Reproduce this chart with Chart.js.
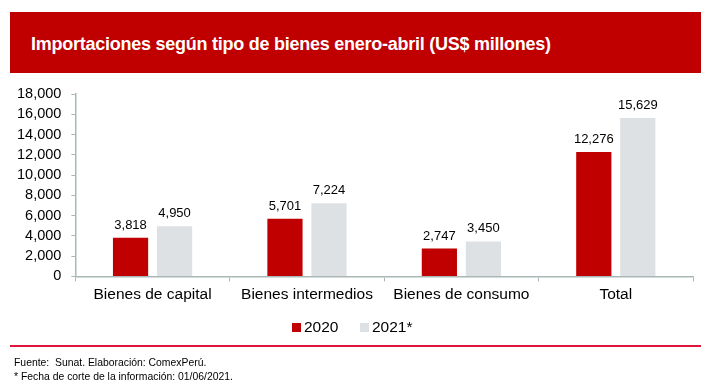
<!DOCTYPE html>
<html>
<head>
<meta charset="utf-8">
<script src="https://cdn.jsdelivr.net/npm/chart.js@4"></script>
<style>
  body { margin: 0; width: 710px; height: 391px; background: #fff; font-family: "Liberation Sans", Arial, sans-serif; position: relative; overflow: hidden; }
  #banner { position: absolute; left: 10px; top: 12px; width: 691px; height: 61px; background: #C00000; }
  #banner span { position: absolute; left: 21px; top: 22px; color: #fff; font-weight: bold; font-size: 18px; letter-spacing: -0.25px; }
  #rule { position: absolute; left: 10px; top: 345px; width: 691px; height: 2px; background: #E0163C; }
  #foot { position: absolute; left: 14px; top: 356px; font-size: 10.4px; line-height: 14px; color: #000; }
  #wrap { position: absolute; left: 0; top: 0; width: 710px; height: 391px; }
  #leyenda { position: absolute; top: 318px; left: 0; width: 710px; font-size: 15.5px; color: #000; }
  #leyenda .it { position: absolute; top: 0; white-space: nowrap; }
  #leyenda i { display: inline-block; width: 9px; height: 9px; margin-right: 3px; vertical-align: 0; }
</style>
</head>
<body>
<div id="banner"><span>Importaciones según tipo de bienes enero-abril (US$ millones)</span></div>
<div id="wrap"><canvas id="chart" width="710" height="391"></canvas></div>
<div id="leyenda"></div>
<div id="rule"></div>
<div id="foot">Fuente:&nbsp; Sunat. Elaboración: ComexPerú.<br>* Fecha de corte de la información: 01/06/2021.</div>
<script>
// datos del gráfico
const categorias = ['Bienes de capital', 'Bienes intermedios', 'Bienes de consumo', 'Total'];
const valores2020 = [3818, 5701, 2747, 12276];
const valores2021 = [4950, 7224, 3450, 15629];
const series = ['2020', '2021*'];
const colores = ['#C00000', '#DEE1E3'];

const fuente = '"Liberation Sans", Arial, sans-serif';

// etiquetas encima de cada barra
const etiquetas = {
    id: 'etiquetas',
    afterDatasetsDraw(chart) {
        const ctx = chart.ctx;
        ctx.save();
        ctx.font = '13px ' + fuente;
        ctx.fillStyle = '#000';
        ctx.textAlign = 'center';
        ctx.textBaseline = 'alphabetic';
        chart.data.datasets.forEach((ds, i) => {
            chart.getDatasetMeta(i).data.forEach((bar, j) => {
                ctx.fillText(ds.data[j].toLocaleString('en-US'), bar.x, bar.y - 9);
            });
        });
        ctx.restore();
    }
};

const ejeColor = '#A9B7B7';
const chart = new Chart(document.getElementById('chart'), {
    type: 'bar',
    data: {
        labels: categorias,
        datasets: series.map((s, i) => ({
            label: s,
            data: i === 0 ? valores2020 : valores2021,
            backgroundColor: colores[i],
            barPercentage: 0.8,
            categoryPercentage: 0.57
        }))
    },
    options: {
        responsive: false,
        animation: false,
        layout: { padding: { top: 94, left: 7, right: 17, bottom: 83 } },
        plugins: {
            tooltip: { enabled: false },
            legend: { display: false }
        },
        scales: {
            x: {
                grid: { drawOnChartArea: false, drawTicks: true, tickLength: 5, color: ejeColor },
                border: { color: ejeColor, width: 1.5 },
                ticks: { color: '#000', padding: 4, autoSkip: false, maxRotation: 0, font: { family: fuente, size: 15.5 } }
            },
            y: {
                min: 0, max: 18000,
                grid: { drawOnChartArea: false, drawTicks: true, tickLength: 4, color: ejeColor },
                border: { color: ejeColor, width: 1.5 },
                ticks: {
                    stepSize: 2000, autoSkip: false, color: '#000', padding: 10,
                    font: { family: fuente, size: 14.5 },
                    callback: v => v.toLocaleString('en-US')
                }
            }
        }
    },
    plugins: [etiquetas]
});

// leyenda en HTML, posiciones como en la imagen original
const leyenda = document.getElementById('leyenda');
const posX = [292, 360];
chart.data.datasets.forEach((ds, i) => {
    const it = document.createElement('span');
    it.className = 'it';
    it.style.left = posX[i] + 'px';
    it.innerHTML = '<i style="background:' + ds.backgroundColor + '"></i>' + ds.label;
    leyenda.appendChild(it);
});
</script>
</body>
</html>
